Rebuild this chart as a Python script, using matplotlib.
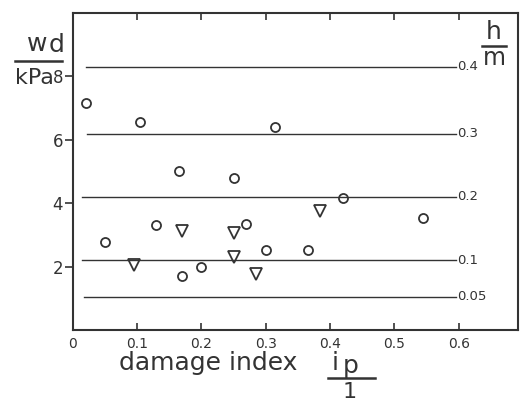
import matplotlib
matplotlib.use('Agg')
import matplotlib.pyplot as plt
from matplotlib.lines import Line2D

circle_x = [0.02, 0.05, 0.105, 0.13, 0.165, 0.17, 0.2, 0.25, 0.27, 0.30, 0.315, 0.365, 0.42, 0.545]
circle_y = [7.15, 2.77, 6.56, 3.31, 5.03, 1.71, 2.0, 4.81, 3.34, 2.54, 6.41, 2.54, 4.16, 3.53]
tri_x = [0.095, 0.17, 0.25, 0.25, 0.285, 0.385]
tri_y = [2.06, 3.12, 3.06, 2.29, 1.77, 3.75]

# constant-depth lines h/m -> w_d/kPa
h_labels = ['0.4', '0.3', '0.2', '0.1', '0.05']
h_levels = [8.3, 6.2, 4.2, 2.2, 1.05]
line_start = [0.02, 0.022, 0.014, 0.015, 0.018]
line_end = 0.595

xticks = [0, 0.1, 0.2, 0.3, 0.4, 0.5, 0.6]
xticklabels = ['0', '0.1', '0.2', '0.3', '0.4', '0.5', '0.6']
yticks = [2, 4, 6, 8]

ink = '#333333'
plt.rcParams['font.family'] = 'DejaVu Sans'

fig = plt.figure(figsize=(5.2, 4.07), dpi=100)
ax = fig.add_axes([0.140, 0.189, 0.856, 0.779])

for lvl, x0, lab in zip(h_levels, line_start, h_labels):
    ax.plot([x0, line_end], [lvl, lvl], color=ink, lw=1.0)
    ax.text(line_end + 0.003, lvl, lab, fontsize=9.5, color=ink, va='center', ha='left')

ax.plot(circle_x, circle_y, 'o', ms=6.5, mfc='none', mec=ink, mew=1.3)
ax.plot(tri_x, tri_y, 'v', ms=8, mfc='none', mec=ink, mew=1.3)

ax.set_xlim(0, 0.692)
ax.set_ylim(0, 10)
ax.set_xticks(xticks)
ax.set_xticklabels(xticklabels, fontsize=10, color=ink)
ax.set_yticks(yticks)
ax.set_yticklabels([str(v) for v in yticks], fontsize=12, color=ink)
ax.tick_params(axis='x', direction='in', length=5, width=1.2, top=True, pad=5, colors=ink)
ax.tick_params(axis='y', direction='out', length=6, width=1.2, right=True, pad=1, colors=ink)
for t in ax.yaxis.get_ticklines()[1::2]:
    t.set_marker(3)  # right-side ticks point inward
for s in ax.spines.values():
    s.set_linewidth(1.5)
    s.set_color(ink)

# y label as fraction
fig.text(47 / 520, 1 - 44 / 407, 'w', fontsize=18, color=ink, ha='right', va='center')
fig.text(49 / 520, 1 - 45 / 407, 'd', fontsize=18, color=ink, ha='left', va='center')
fig.add_artist(Line2D([15 / 520, 62 / 520], [1 - 61 / 407, 1 - 61 / 407], color=ink, lw=1.8))
fig.text(34 / 520, 1 - 78 / 407, 'kPa', fontsize=16, color=ink, ha='center', va='center')

# h/m label
fig.text(494 / 520, 1 - 32 / 407, 'h', fontsize=18, color=ink, ha='center', va='center')
fig.add_artist(Line2D([482 / 520, 506 / 520], [1 - 46 / 407, 1 - 46 / 407], color=ink, lw=1.8))
fig.text(494 / 520, 1 - 58 / 407, 'm', fontsize=17, color=ink, ha='center', va='center')

# x label
fig.text(208 / 520, 1 - 363 / 407, 'damage index', fontsize=18, color=ink, ha='center', va='center')
fig.text(335 / 520, 1 - 363 / 407, 'i', fontsize=18, color=ink, ha='center', va='center')
fig.text(351 / 520, 1 - 366 / 407, 'p', fontsize=18, color=ink, ha='center', va='center')
fig.add_artist(Line2D([328 / 520, 375 / 520], [1 - 378 / 407, 1 - 378 / 407], color=ink, lw=1.8))
fig.text(350 / 520, 1 - 392 / 407, '1', fontsize=16, color=ink, ha='center', va='center')

fig.savefig('out.png', dpi=100)
